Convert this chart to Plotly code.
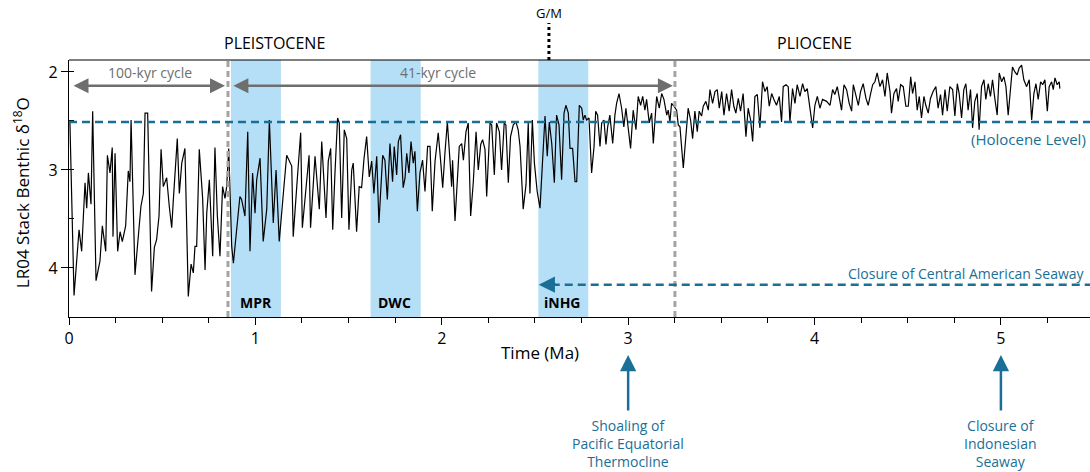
import plotly.graph_objects as go

# ---------------- data ----------------
age_0_1 = [0.005, 0.027, 0.054, 0.068, 0.086, 0.095, 0.104, 0.118, 0.127, 0.145, 0.166, 0.179, 0.197, 0.206,
           0.220, 0.232, 0.236, 0.247, 0.261, 0.274, 0.286, 0.304, 0.318, 0.327, 0.333, 0.354, 0.369, 0.386,
           0.399, 0.408, 0.422, 0.443, 0.458, 0.470, 0.483, 0.494, 0.506, 0.524, 0.538, 0.551, 0.560, 0.581,
           0.592, 0.605, 0.622, 0.640, 0.655, 0.667, 0.676, 0.685, 0.699, 0.717, 0.730, 0.739, 0.753, 0.771,
           0.783, 0.796, 0.810, 0.824, 0.837, 0.846, 0.857, 0.873, 0.882, 0.900, 0.917, 0.926, 0.944, 0.959,
           0.971, 0.985, 0.998]
d18o_0_1 = [2.52, 4.28, 3.61, 3.83, 3.13, 3.39, 3.03, 3.35, 2.40, 4.13, 3.93, 3.57, 3.83, 2.85,
            3.03, 2.77, 3.68, 2.83, 3.83, 3.63, 3.73, 3.57, 3.01, 3.12, 2.49, 4.07, 3.74, 3.37,
            3.24, 2.42, 2.42, 4.24, 3.79, 3.71, 3.47, 2.79, 3.17, 3.08, 3.37, 3.59, 3.30, 2.68,
            3.24, 2.93, 2.78, 4.29, 3.96, 4.05, 3.78, 3.78, 2.79, 3.29, 4.02, 3.44, 3.10, 3.88,
            2.77, 3.47, 3.88, 3.17, 3.29, 3.17, 2.78, 3.78, 3.95, 3.57, 3.27, 3.30, 3.47, 2.61,
            3.83, 3.03, 3.44]

age_1_2 = [1.007, 1.025, 1.042, 1.061, 1.075, 1.096, 1.111, 1.128, 1.150, 1.168, 1.195, 1.203, 1.222, 1.243,
           1.252, 1.266, 1.288, 1.296, 1.320, 1.343, 1.356, 1.379, 1.391, 1.404, 1.415, 1.427, 1.441, 1.450,
           1.463, 1.477, 1.490, 1.502, 1.517, 1.525, 1.543, 1.557, 1.570, 1.583, 1.597, 1.611, 1.624, 1.636,
           1.651, 1.663, 1.683, 1.695, 1.708, 1.722, 1.736, 1.745, 1.758, 1.767, 1.779, 1.793, 1.803, 1.812,
           1.824, 1.835, 1.847, 1.856, 1.869, 1.883, 1.897, 1.910, 1.924, 1.937, 1.949, 1.964, 1.981, 1.994]
d18o_1_2 = [3.10, 2.88, 3.73, 3.40, 2.49, 3.54, 3.00, 3.73, 3.24, 2.85, 2.96, 3.68, 3.17, 2.62,
            3.59, 3.30, 2.85, 3.59, 2.86, 3.40, 2.71, 3.49, 2.91, 2.78, 3.61, 3.03, 2.47, 2.52,
            3.49, 2.59, 2.68, 3.61, 3.00, 2.93, 3.63, 3.17, 3.18, 2.88, 2.66, 3.07, 2.91, 3.24,
            2.86, 3.54, 2.85, 2.90, 3.30, 2.73, 3.12, 2.76, 3.05, 2.71, 2.64, 3.18, 3.08, 2.83,
            3.03, 2.71, 2.93, 2.81, 3.42, 3.03, 2.90, 3.22, 2.76, 2.76, 3.42, 2.91, 2.62, 2.91]

age_2_3 = [2.005, 2.017, 2.030, 2.044, 2.053, 2.058, 2.071, 2.094, 2.107, 2.116, 2.130, 2.142, 2.155, 2.169,
           2.184, 2.196, 2.209, 2.219, 2.232, 2.241, 2.259, 2.268, 2.282, 2.294, 2.309, 2.321, 2.335, 2.344,
           2.357, 2.369, 2.384, 2.398, 2.410, 2.420, 2.437, 2.452, 2.464, 2.473, 2.486, 2.497, 2.512, 2.527,
           2.541, 2.554, 2.566, 2.577, 2.590, 2.604, 2.616, 2.629, 2.643, 2.656, 2.666, 2.679, 2.688, 2.702,
           2.715, 2.724, 2.738, 2.751, 2.759, 2.768, 2.777, 2.790, 2.804, 2.817, 2.826, 2.836, 2.849, 2.858,
           2.870, 2.881, 2.890, 2.902, 2.917, 2.929, 2.938, 2.951, 2.965, 2.977, 2.988]
d18o_2_3 = [3.18, 2.83, 2.51, 2.90, 3.17, 2.90, 3.52, 2.76, 2.73, 2.90, 2.61, 2.52, 3.47, 3.13,
            2.61, 3.00, 2.74, 2.69, 2.79, 3.27, 2.52, 2.54, 3.05, 2.52, 2.61, 3.00, 2.52, 2.54,
            3.13, 2.66, 2.54, 2.51, 2.59, 2.76, 3.40, 3.15, 2.52, 3.24, 2.49, 2.93, 3.22, 3.39,
            2.86, 2.45, 2.86, 2.51, 2.73, 3.13, 2.44, 2.54, 3.10, 2.42, 2.34, 2.42, 2.78, 2.78,
            3.12, 3.12, 2.34, 2.37, 2.49, 2.44, 2.49, 2.47, 3.03, 2.76, 2.40, 2.44, 2.76, 2.52,
            2.49, 2.74, 2.56, 2.44, 2.73, 2.44, 2.32, 2.22, 2.37, 2.56, 2.37]

age_3_4 = [3.001, 3.013, 3.027, 3.042, 3.054, 3.067, 3.078, 3.090, 3.099, 3.113, 3.126, 3.135, 3.153, 3.167,
           3.180, 3.192, 3.207, 3.215, 3.224, 3.233, 3.246, 3.260, 3.269, 3.278, 3.296, 3.310, 3.322, 3.335,
           3.346, 3.358, 3.371, 3.381, 3.394, 3.403, 3.417, 3.430, 3.439, 3.453, 3.466, 3.478, 3.489, 3.502,
           3.514, 3.528, 3.542, 3.555, 3.567, 3.578, 3.591, 3.603, 3.617, 3.632, 3.644, 3.657, 3.668, 3.680,
           3.693, 3.707, 3.721, 3.734, 3.746, 3.757, 3.770, 3.782, 3.796, 3.811, 3.823, 3.832, 3.847, 3.859,
           3.868, 3.882, 3.895, 3.907, 3.922, 3.936, 3.948, 3.961, 3.975, 3.990]
d18o_3_4 = [2.61, 2.78, 2.39, 2.59, 2.25, 2.34, 2.25, 2.39, 2.28, 2.52, 2.42, 2.73, 2.25, 2.37,
            2.22, 2.28, 2.44, 2.39, 2.51, 2.32, 2.35, 2.39, 2.54, 2.56, 2.98, 2.68, 2.37, 2.49,
            2.68, 2.40, 2.61, 2.40, 2.45, 2.35, 2.30, 2.39, 2.18, 2.32, 2.20, 2.18, 2.37, 2.20,
            2.44, 2.22, 2.40, 2.18, 2.35, 2.42, 2.27, 2.40, 2.22, 2.66, 2.37, 2.49, 2.71, 2.25,
            2.23, 2.57, 2.10, 2.20, 2.15, 2.35, 2.22, 2.28, 2.34, 2.25, 2.51, 2.15, 2.13, 2.15,
            2.51, 2.17, 2.32, 2.13, 2.25, 2.12, 2.20, 2.17, 2.34, 2.57]

age_4_5 = [4.002, 4.015, 4.029, 4.043, 4.065, 4.083, 4.097, 4.109, 4.122, 4.133, 4.145, 4.158, 4.172, 4.186,
           4.199, 4.208, 4.222, 4.235, 4.247, 4.261, 4.276, 4.288, 4.301, 4.312, 4.324, 4.336, 4.351, 4.365,
           4.378, 4.390, 4.405, 4.413, 4.426, 4.440, 4.449, 4.462, 4.476, 4.490, 4.503, 4.516, 4.526, 4.539,
           4.551, 4.562, 4.574, 4.587, 4.597, 4.610, 4.622, 4.636, 4.651, 4.663, 4.676, 4.687, 4.700, 4.712,
           4.726, 4.741, 4.753, 4.766, 4.776, 4.789, 4.801, 4.812, 4.824, 4.837, 4.848, 4.860, 4.873, 4.883,
           4.896, 4.909, 4.919, 4.932, 4.944, 4.955, 4.968, 4.980, 4.991]
d18o_4_5 = [2.34, 2.25, 2.37, 2.28, 2.30, 2.34, 2.18, 2.23, 2.15, 2.25, 2.39, 2.13, 2.18, 2.32,
            2.40, 2.13, 2.25, 2.34, 2.20, 2.12, 2.27, 2.34, 2.22, 2.13, 2.10, 2.01, 2.15, 2.08,
            2.25, 2.01, 2.20, 2.42, 2.22, 2.17, 2.30, 2.13, 2.15, 2.35, 2.35, 2.05, 2.22, 2.10,
            2.39, 2.25, 2.47, 2.25, 2.34, 2.42, 2.27, 2.20, 2.15, 2.37, 2.23, 2.44, 2.18, 2.40,
            2.15, 2.18, 2.45, 2.12, 2.22, 2.47, 2.18, 2.12, 2.39, 2.18, 2.57, 2.30, 2.22, 2.59,
            2.15, 2.08, 2.28, 2.12, 2.25, 2.08, 2.28, 2.44, 2.01]

age_5_end = [5.004, 5.016, 5.027, 5.039, 5.052, 5.062, 5.075, 5.087, 5.098, 5.111, 5.123, 5.138, 5.152, 5.165,
             5.177, 5.188, 5.200, 5.213, 5.224, 5.236, 5.249, 5.259, 5.272, 5.281, 5.290, 5.302, 5.313, 5.316]
d18o_5_end = [2.10, 2.05, 2.15, 2.44, 2.15, 1.95, 2.00, 2.03, 1.96, 1.93, 2.08, 2.15, 2.08, 2.49,
              2.22, 2.12, 2.28, 2.10, 2.13, 2.08, 2.40, 2.15, 2.10, 2.18, 2.06, 2.13, 2.10, 2.17]

ages = age_0_1 + age_1_2 + age_2_3 + age_3_4 + age_4_5 + age_5_end
d18o = d18o_0_1 + d18o_1_2 + d18o_2_3 + d18o_3_4 + d18o_4_5 + d18o_5_end

# events / annotations
band_labels = ["MPR", "DWC", "iNHG"]
band_start = [0.869, 1.618, 2.518]
band_end = [1.137, 1.887, 2.786]
band_label_x = [1.003, 1.749, 2.650]
boundary_lines = [0.853, 3.251]
holocene_level = 2.51
casw_level = 4.17
casw_start = 2.52
gm_age = 2.575
x_ticks = [0, 1, 2, 3, 4, 5]
y_ticks = [2, 3, 4]

# ---------------- figure ----------------
FONT = "Open Sans"
BLUE = "#1a6f96"
GREY = "#6e6e6e"

fig = go.Figure()
fig.add_trace(go.Scatter(x=ages, y=d18o, mode="lines",
                         line=dict(color="black", width=1.2),
                         hoverinfo="skip", showlegend=False))

shapes = []
for s, e in zip(band_start, band_end):
    shapes.append(dict(type="rect", xref="x", yref="paper", x0=s, x1=e, y0=0, y1=1,
                       fillcolor="#b5dff6", line=dict(width=0), layer="below"))
for b in boundary_lines:
    shapes.append(dict(type="line", xref="x", yref="paper", x0=b, x1=b, y0=0, y1=1,
                       line=dict(color="#a4a4a4", width=3, dash="6px,4px"), layer="above"))
# holocene level
shapes.append(dict(type="line", xref="paper", yref="y", x0=0, x1=1, y0=holocene_level, y1=holocene_level,
                   line=dict(color=BLUE, width=2.5, dash="8px,5px"), layer="above"))
# central american seaway dashed line
shapes.append(dict(type="line", xref="x", yref="y", x0=casw_start + 0.07, x1=5.48, y0=casw_level, y1=casw_level,
                   line=dict(color=BLUE, width=2.5, dash="8px,5px"), layer="above"))
# top border line
shapes.append(dict(type="line", xref="paper", yref="paper", x0=0, x1=1, y0=1, y1=1,
                   line=dict(color="black", width=1.2)))
# G/M dotted line
shapes.append(dict(type="line", xref="x", yref="paper", x0=gm_age, x1=gm_age, y0=1.0, y1=1.144,
                   line=dict(color="black", width=3, dash="3px,3px")))

ann = []
def txt(text, x, y, xref="x", yref="paper", size=15, color="black", xanchor="center", bold=False):
    if bold:
        text = "<b>" + text + "</b>"
    ann.append(dict(text=text, x=x, y=y, xref=xref, yref=yref, showarrow=False,
                    font=dict(family=FONT, size=size, color=color), xanchor=xanchor, yanchor="middle"))

txt("PLEISTOCENE", 1.105, 1.066, size=16)
txt("PLIOCENE", 4.002, 1.066, size=16)
txt("G/M", gm_age, 1.183, size=13)
txt("100-kyr cycle", 0.435, 2.01, yref="y", size=14, color=GREY)
txt("41-kyr cycle", 1.98, 2.01, yref="y", size=14, color=GREY)
txt("(Holocene Level)", 0.998, 2.68, xref="paper", yref="y", size=15, color=BLUE, xanchor="right")
txt("Closure of Central American Seaway", 0.997, 4.06, xref="paper", yref="y", size=14, color=BLUE, xanchor="right")
for lab, lx in zip(band_labels, band_label_x):
    txt(lab, lx, 4.35, yref="y", size=14, bold=True)
txt("Time (Ma)", 2.527, -0.14, size=17)
txt("Shoaling of<br>Pacific Equatorial<br>Thermocline", 3.0, -0.494, size=14, color=BLUE)
txt("Closure of<br>Indonesian<br>Seaway", 5.0, -0.494, size=14, color=BLUE)
ann.append(dict(text="LR04 Stack Benthic δ<sup>18</sup>O", x=-0.047, y=0.482, xref="paper", yref="paper",
                showarrow=False, textangle=-90, font=dict(family=FONT, size=17, color="black"),
                xanchor="center", yanchor="middle"))

# double-headed grey arrows
for x0, x1 in [(0.016, 0.837), (0.874, 3.24)]:
    ann.append(dict(text="", x=x1, y=2.14, ax=x0, ay=2.14, xref="x", yref="y", axref="x", ayref="y",
                    showarrow=True, arrowhead=2, startarrowhead=2, arrowside="end+start",
                    arrowsize=1.2, startarrowsize=1.2, arrowwidth=2.5, arrowcolor=GREY))
# CASW arrowhead
ann.append(dict(text="", x=casw_start, y=casw_level, ax=casw_start + 0.1, ay=casw_level,
                xref="x", yref="y", axref="x", ayref="y", showarrow=True, arrowhead=2,
                arrowsize=1.3, arrowwidth=2.5, arrowcolor=BLUE))
# upward arrows
for xa in [3.0, 5.0]:
    ann.append(dict(text="", x=xa, y=-0.148, xref="x", yref="paper", ax=0, ay=57,
                    showarrow=True, arrowhead=2, arrowsize=1.3, arrowwidth=2.5, arrowcolor=BLUE))

fig.update_layout(
    width=1090, height=472,
    margin=dict(l=69, r=0, t=60, b=155),
    paper_bgcolor="white", plot_bgcolor="white",
    font=dict(family=FONT, size=16, color="black"),
    shapes=shapes, annotations=ann, showlegend=False,
    xaxis=dict(range=[0, 5.478], tickvals=x_ticks, ticks="outside", ticklen=7, tickwidth=1.2,
               tickcolor="black", showline=True, linecolor="black", linewidth=1.2,
               showgrid=False, zeroline=False, tickfont=dict(size=16),
               minor=dict(dtick=0.25, ticks="outside", ticklen=5, tickwidth=1.2, tickcolor="black")),
    yaxis=dict(range=[4.5, 1.878], tickvals=y_ticks, ticks="outside", ticklen=7, tickwidth=1.2,
               tickcolor="black", showline=True, linecolor="black", linewidth=1.2,
               showgrid=False, zeroline=False, tickfont=dict(size=16),
               minor=dict(dtick=0.5, ticks="inside", ticklen=5, tickwidth=1.2, tickcolor="black")),
)

fig.write_html("out.html")
